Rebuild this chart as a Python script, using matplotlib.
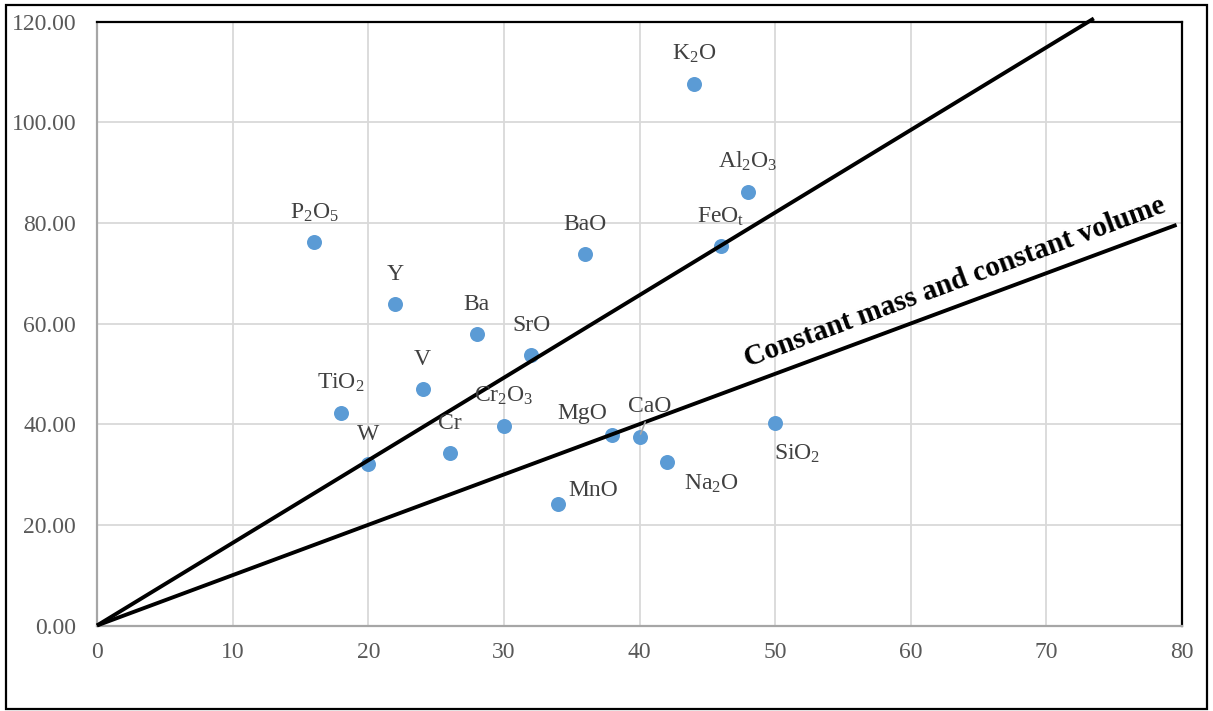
import math
import matplotlib
matplotlib.use("Agg")
import matplotlib.pyplot as plt
from matplotlib.patches import Rectangle

plt.rcParams["font.family"] = ["Liberation Serif", "DejaVu Serif"]
plt.rcParams["mathtext.fontset"] = "custom"
plt.rcParams["mathtext.rm"] = "Liberation Serif"
plt.rcParams["mathtext.it"] = "Liberation Serif:italic"
plt.rcParams["mathtext.bf"] = "Liberation Serif:bold"
plt.rcParams["mathtext.default"] = "regular"

# Component values
components = ["P$_2$O$_5$", "TiO$_2$", "W", "Y", "V", "Cr", "Ba", "Cr$_2$O$_3$",
              "SrO", "MnO", "BaO", "MgO", "CaO", "Na$_2$O", "K$_2$O", "FeO$_t$",
              "Al$_2$O$_3$", "SiO$_2$"]
x_vals = [16.0, 18.0, 20.0, 22.0, 24.0, 26.0, 28.0, 30.0,
          32.0, 34.0, 36.0, 38.0, 40.0, 42.0, 44.0, 46.0, 48.0, 50.0]
y_vals = [76.1, 42.3, 32.1, 63.9, 46.9, 34.3, 57.9, 39.7,
          53.7, 24.1, 73.9, 37.9, 37.5, 32.5, 107.6, 75.3, 86.1, 40.3]

# Reference lines through the origin
ratio_line_x = [0, 73.5]
ratio_line_y = [0, 120.6]
isocon_x = [0, 79.6]
isocon_y = [0, 79.6]
isocon_label = "Constant mass and constant volume"

x_ticks = [0, 10, 20, 30, 40, 50, 60, 70, 80]
y_ticks = [0, 20, 40, 60, 80, 100, 120]

# Label placement (pixel offsets, alignment); default is centred above the point
label_place = {
    "MgO": (-5, 16, "right"),
    "CaO": (10, 25, "center"),
    "Na$_2$O": (17, -28, "left"),
    "MnO": (10, 8, "left"),
    "SiO$_2$": (-1, -37, "left"),
}

W, H = 1213, 711
fig = plt.figure(figsize=(W / 100, H / 100), dpi=100)
ax = fig.add_axes([97 / W, 1 - 625.5 / H, (1182 - 97) / W, (625.5 - 21.5) / H])

ax.set_xlim(0, 80)
ax.set_ylim(0, 120)
ax.set_xticks(x_ticks)
ax.set_yticks(y_ticks)
ax.set_xticklabels([f"{t}" for t in x_ticks])
ax.set_yticklabels([f"{t:.2f}" for t in y_ticks])
ax.tick_params(axis="both", length=0, labelsize=17, labelcolor="#595959")
ax.tick_params(axis="y", pad=15)
ax.tick_params(axis="x", pad=12)

ax.grid(True, color="#d9d9d9", linewidth=1.3, zorder=0)
ax.set_axisbelow(True)

for side in ("left", "bottom"):
    ax.spines[side].set_color("#a6a6a6")
    ax.spines[side].set_linewidth(1.6)
for side in ("top", "right"):
    ax.spines[side].set_color("black")
    ax.spines[side].set_linewidth(1.6)

ax.plot(x_vals, y_vals, linestyle="none", marker="o", markersize=10.8,
        color="#5b9bd5", markeredgewidth=0, zorder=3)

ax.plot(ratio_line_x, ratio_line_y, color="black", linewidth=2.8,
        solid_capstyle="butt", clip_on=False, zorder=4)
ax.plot(isocon_x, isocon_y, color="black", linewidth=2.8,
        solid_capstyle="butt", clip_on=False, zorder=4)

for name, xv, yv in zip(components, x_vals, y_vals):
    dx, dy, ha = label_place.get(name, (0, 24, "center"))
    if name == "CaO":
        ax.annotate(name, (xv, yv), xytext=(dx, dy), textcoords="offset pixels",
                    ha=ha, va="baseline", fontsize=17, color="#404040", zorder=5,
                    arrowprops=dict(arrowstyle="-", color="#a6a6a6", lw=1.2,
                                    shrinkA=2, shrinkB=2,
                                    relpos=(0.45, 0.0)))
    else:
        ax.annotate(name, (xv, yv), xytext=(dx, dy), textcoords="offset pixels",
                    ha=ha, va="baseline", fontsize=17, color="#404040", zorder=5)

# Rotated label sitting along the 1:1 line
p0 = ax.transData.transform((0, 0))
p1 = ax.transData.transform((80, 80))
angle = math.degrees(math.atan2(p1[1] - p0[1], p1[0] - p0[0]))
ax.text(48.0, 51.4, isocon_label, rotation=angle, rotation_mode="anchor",
        ha="left", va="baseline", fontsize=21, fontweight="bold",
        color="black", zorder=5)

# Outer frame
fig.add_artist(Rectangle((5.5 / W, 1 - 708.5 / H), (1207 - 5.5) / W, (708.5 - 4.5) / H,
                         transform=fig.transFigure, fill=False,
                         edgecolor="black", linewidth=1.6))

fig.savefig("out.png", dpi=100)
